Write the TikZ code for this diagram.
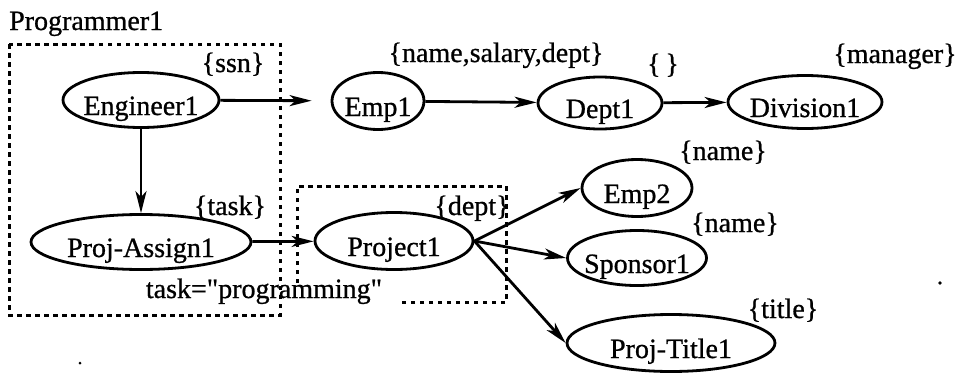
\documentclass[tikz,border=0pt]{standalone}
\usepackage{fontspec}
\setmainfont{Liberation Serif}[Ligatures=TeXOff, FakeBold=0.8]
\usetikzlibrary{shapes.geometric,arrows.meta}

\newcommand\bodyfont{\fontsize{28}{33}\selectfont}
% text of an object node: takes no width, so the oval keeps its given size
\newcommand\ovaltext[1]{\makebox[0pt]{#1}}

\begin{document}
\begin{tikzpicture}[x=1pt,y=-1pt]
\tikzset{
  obj/.style={ellipse, draw, line width=2.8pt, inner sep=0pt,
              text height=30pt, text depth=0pt, font=\bodyfont},
  attr/.style={anchor=base, inner sep=0pt, font=\bodyfont},
  link/.style={line width=2.8pt, -{Stealth[length=22pt,width=11pt,inset=6pt]}},
  groupbox/.style={line width=3pt, dash pattern=on 4.5pt off 4.5pt},
}
\useasboundingbox (0,0) rectangle (959,375);

% group frames
\draw[groupbox] (9,44) rectangle (280,315);
\node[attr, anchor=base west] (prog) at (9,30) {Programmer1};

% objects
\node[obj, minimum width=156pt, minimum height=55pt] (eng)   at (141,100) {\ovaltext{Engineer1}};
\node[obj, minimum width=92pt,  minimum height=57pt] (emp1)  at (378,101) {\ovaltext{Emp1}};
\node[obj, minimum width=124pt, minimum height=52pt] (dept1) at (600,103) {\ovaltext{Dept1}};
\node[obj, minimum width=154pt, minimum height=53pt] (div1)  at (805,102) {\ovaltext{Division1}};
\node[obj, minimum width=220pt, minimum height=55pt] (pa)    at (141,242) {\ovaltext{Proj-Assign1}};
\node[obj, minimum width=158pt, minimum height=57pt] (proj)  at (394,241) {\ovaltext{Project1}};
\node[obj, minimum width=110pt, minimum height=57pt] (emp2)  at (637,188) {\ovaltext{Emp2}};
\node[obj, minimum width=139pt, minimum height=55pt] (spon)  at (637,258) {\ovaltext{Sponsor1}};
\node[obj, minimum width=208pt, minimum height=57pt] (ptit)  at (671,343) {\ovaltext{Proj-Title1}};

% attribute sets
\node[attr] (aeng)  at (233,72)  {\{ssn\}};
\node[attr] (aemp1) at (496,62)  {\{name,salary,dept\}};
\node[attr] (adept) at (663,73)  {\{\,\}};
\node[attr] (adiv)  at (895,63)  {\{manager\}};
\node[attr] (apa)   at (230,215) {\{task\}};
\node[attr] (aproj) at (472,215) {\{dept\}};
\node[attr] (aemp2) at (723,160) {\{name\}};
\node[attr] (aspon) at (735,232) {\{name\}};
\node[attr] (aptit) at (783,318) {\{title\}};
\node[attr] (task)  at (264,298) {task="programming"};

% frame round Project1, open where the condition text runs
\draw[groupbox] (297,283) -- (297,186) -- (506,186) -- (506,302) -- (398,302);

% links
\draw[link, shorten >=19pt] (eng) -- (emp1);
\draw[link] (eng) -- (pa);
\draw[link] (emp1) -- (dept1);
\draw[link] (dept1) -- (div1);
\draw[link] (pa) -- (proj);
\draw[link] (proj.east) -- (emp2.west);
\draw[link] (proj.east) -- (spon.west);
\draw[link] (proj.east) -- (ptit.west);

% specks
\fill (80,363) circle (1.5pt);
\fill (940,283) circle (1.8pt);
\end{tikzpicture}
\end{document}
